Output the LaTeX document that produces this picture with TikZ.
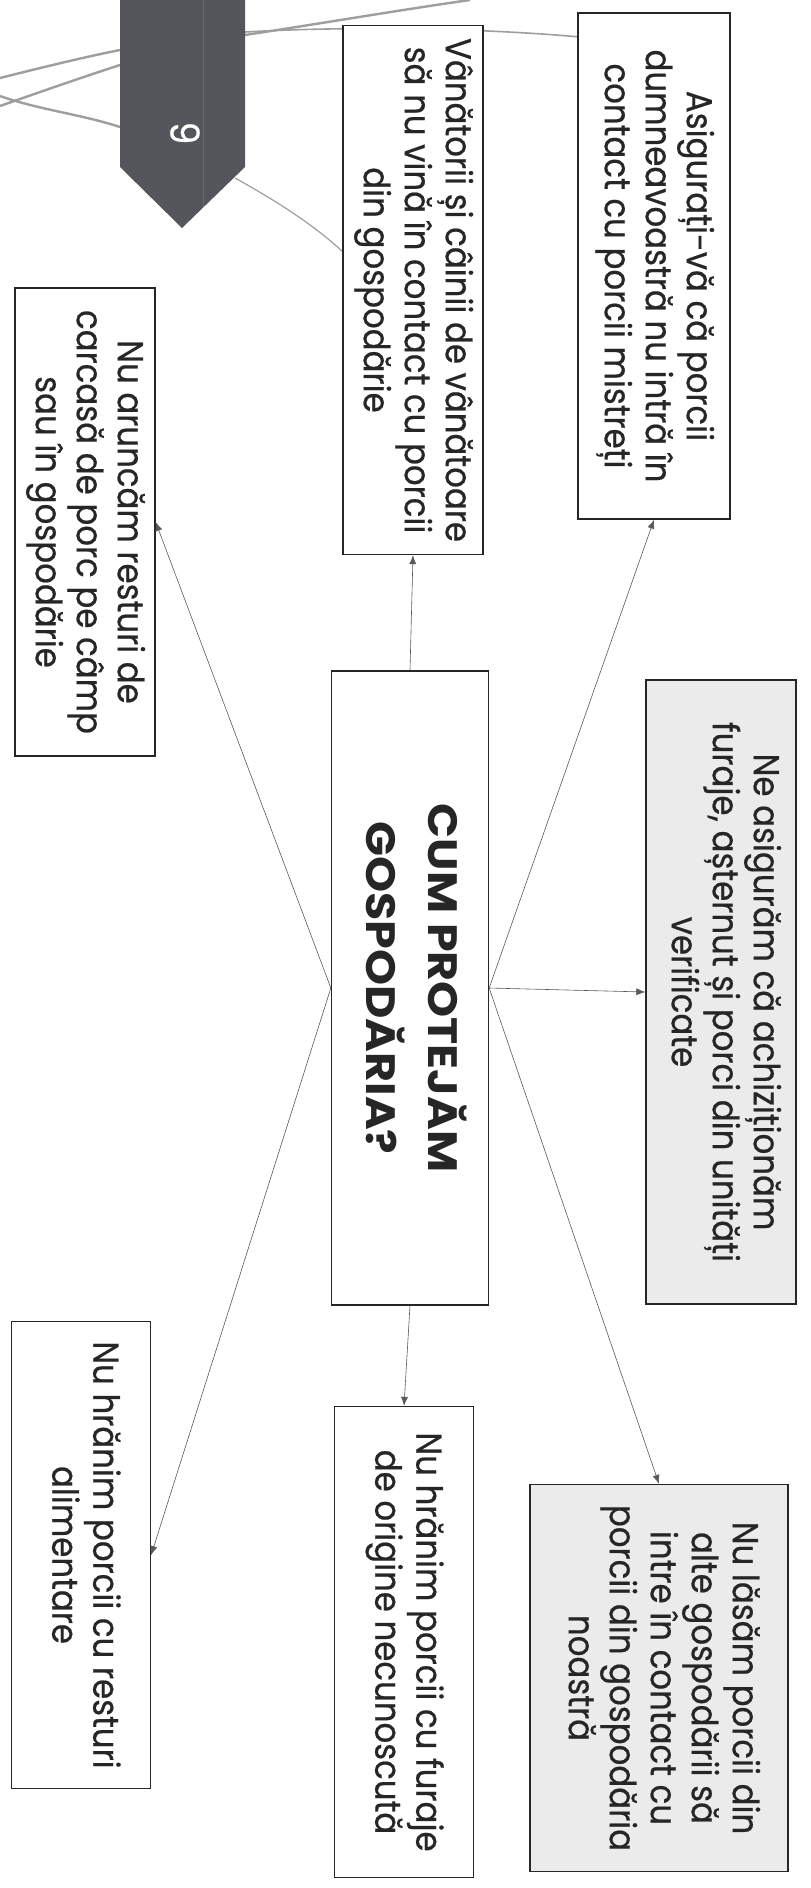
\documentclass[tikz,border=0pt]{standalone}
\usepackage{fontspec}
\usepackage{graphicx}
\setmainfont{Poppins}[FakeStretch=0.9, FakeBold=0.5]
\newfontfamily\hubfont{Poppins}[FakeStretch=1.12]
\usepackage{tikz}
\usetikzlibrary{arrows.meta, positioning}
\definecolor{inkGray}{gray}{0.15}
\definecolor{lineGray}{gray}{0.35}
\definecolor{decoGray}{gray}{0.62}
\definecolor{tabDark}{RGB}{84,86,92}
\definecolor{paleFill}{gray}{0.92}

% text turned a quarter clockwise
\newcommand{\vtxt}[1]{\rotatebox{-90}{\begin{tabular}{@{}c@{}}#1\end{tabular}}}

\begin{document}
\begin{tikzpicture}[x=1pt, y=-1pt, >={Latex[length=9pt,width=7pt]},
    box/.style={draw=inkGray, line width=1.3pt, fill=white, inner sep=0pt, text=inkGray,
        font=\fontsize{36}{41}\selectfont},
    shadebox/.style={box, fill=paleFill},
    link/.style={->, draw=lineGray, line width=0.6pt},
    deco/.style={draw=decoGray, line width=2.4pt}]
    \useasboundingbox (0,0) rectangle (811,1888);
    \fill[white] (0,0) rectangle (811,1888);

    % page decoration behind the boxes
    \draw[deco] (0,78) .. controls (40,68) and (80,58) .. (120,50);
    \draw[deco] (0,106) .. controls (40,92) and (80,78) .. (120,65);
    \draw[deco] (0,96) .. controls (40,110) and (80,114) .. (120,127);
    \draw[deco] (245,35) .. controls (330,22) and (400,10) .. (470,0);
    \draw[deco, line width=1.6pt] (245,32) .. controls (350,26) and (480,28) .. (580,37);
    \draw[deco, line width=1.2pt] (235,178) .. controls (280,203) and (315,226) .. (343,252);

    % page tab
    \fill[tabDark] (120,0) -- (245,0) -- (245,167) -- (182,228) -- (120,167) -- cycle;
    \draw[gray!45!tabDark, line width=0.8pt] (203,0) -- (203,207);
    \node[text=white, font=\fontsize{40}{40}\selectfont, rotate=-90] (page) at (185,133) {9};

    % boxes
    \node[box, minimum width=157pt, minimum height=634pt] (hub) at (410,988)
        {\rotatebox{-90}{\hubfont\bfseries\fontsize{41}{62}\selectfont
        \begin{tabular}{@{}c@{}}CUM PROTEJĂM\\GOSPODĂRIA?\end{tabular}}};
    \node[box, minimum width=152pt, minimum height=506pt] (wild) at (654,266)
        {\vtxt{Asigurați-vă că porcii\\dumneavoastră nu intră în\\contact cu porcii mistreți}};
    \node[box, minimum width=140pt, minimum height=529pt] (hunt) at (413,290)
        {\vtxt{Vânătorii și câinii de vânătoare\\să nu vină în contact cu porcii\\din gospodărie}};
    \node[box, minimum width=140pt, minimum height=468pt] (carc) at (85,522)
        {\vtxt{Nu aruncăm resturi de\\carcasă de porc pe câmp\\sau în gospodărie}};
    \node[shadebox, minimum width=150pt, minimum height=624pt] (feed) at (721,992)
        {\vtxt{Ne asigurăm că achiziționăm\\furaje, așternut și porci din unități\\verificate}};
    \node[shadebox, minimum width=258pt, minimum height=387pt] (other) at (659,1678)
        {\vtxt{Nu lăsăm porcii din\\alte gospodării să\\intre în contact cu\\porcii din gospodăria\\noastră}};
    \node[box, minimum width=139pt, minimum height=471pt] (fodder) at (404,1642)
        {\vtxt{Nu hrănim porcii cu furaje\\de origine necunoscută}};
    \node[box, minimum width=139pt, minimum height=467pt] (scraps) at (81,1555)
        {\vtxt{Nu hrănim porcii cu resturi\\alimentare}};

    % connectors
    \draw[link] (hub.north) -- (hunt.south);
    \draw[link] (hub.east) -- (wild.south);
    \draw[link] (hub.east) -- (feed.west);
    \draw[link] (hub.east) -- (other.north);
    \draw[link] (hub.west) -- (carc.east);
    \draw[link] (hub.west) -- (scraps.east);
    \draw[link] (hub.south) -- (fodder.north);
\end{tikzpicture}
\end{document}
